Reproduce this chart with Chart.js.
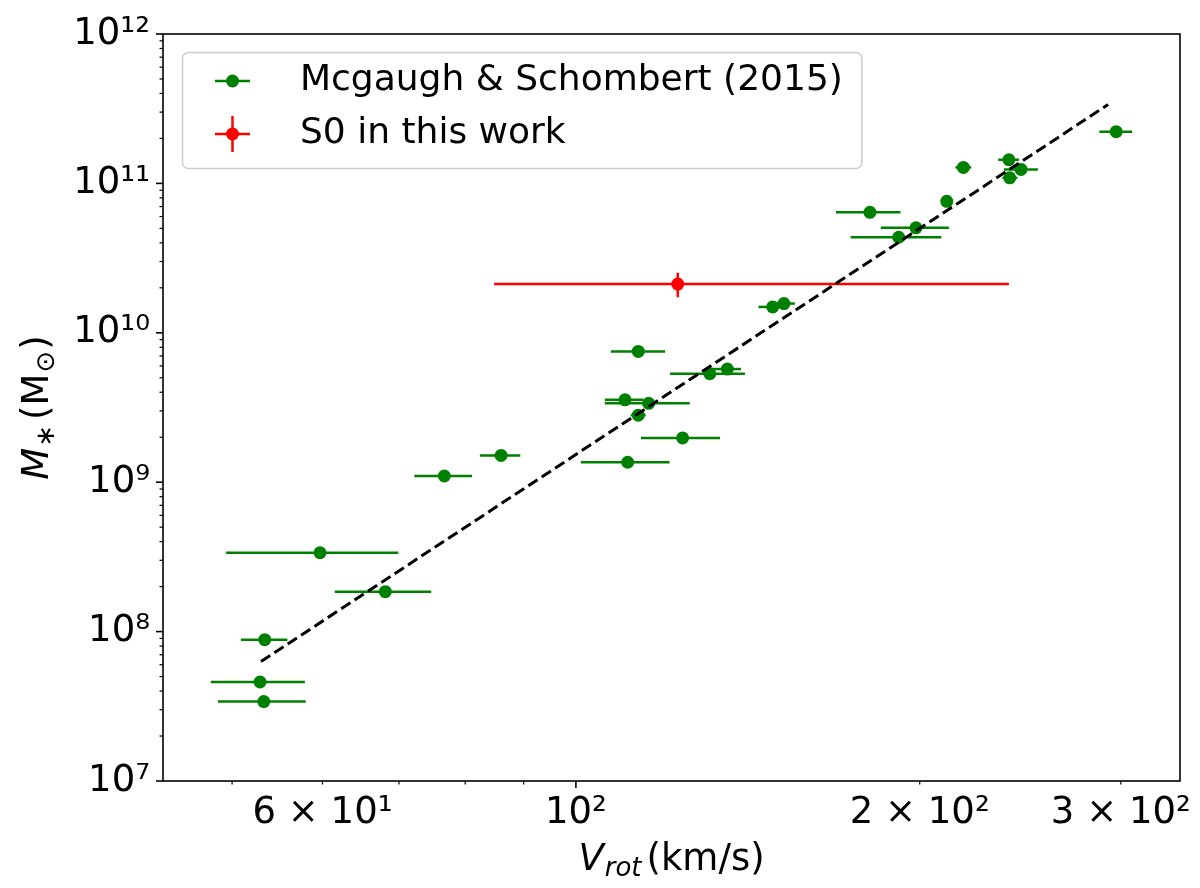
<!DOCTYPE html>
<html>
<head>
<meta charset="utf-8">
<script src="https://cdn.jsdelivr.net/npm/chart.js"></script>
<style>
  html, body { margin: 0; padding: 0; background: #fff; }
</style>
</head>
<body>
<canvas id="tf" width="1200" height="888"></canvas>
<script>
// Mcgaugh & Schombert (2015): rotation velocity (km/s), its range, stellar mass (Msun)
const vrot   = [86.0, 76.7, 59.7, 68.1, 53.4, 52.9, 53.3, 148.7, 152.1, 113.4, 131.0, 135.7, 110.4, 115.8, 113.4, 124.0, 111.0, 297.2, 218.4, 239.4, 245.3, 239.8, 211.2, 180.9, 198.5, 191.7];
const vrotLo = [82.4, 72.2, 49.4, 61.5, 50.9, 47.9, 48.6, 144.5, 148.7, 107.3, 120.9, 131.4, 106.0, 106.0, 111.7, 114.0, 101.0, 287.3, 214.9, 234.3, 237.0, 236.3, 209.9, 168.9, 184.9, 174.0];
const vrotHi = [89.4, 81.1, 69.9, 74.7, 55.9, 57.9, 58.0, 152.5, 155.5, 119.7, 140.6, 139.5, 114.6, 125.8, 115.1, 133.7, 120.8, 306.9, 221.9, 244.3, 253.8, 243.5, 212.9, 192.4, 212.1, 208.9];
const mstar  = [1.51e9, 1.10e9, 3.37e8, 1.85e8, 8.83e7, 4.60e7, 3.40e7, 1.49e10, 1.57e10, 7.50e9, 5.32e9, 5.72e9, 3.56e9, 3.37e9, 2.81e9, 1.98e9, 1.36e9, 2.22e11, 1.28e11, 1.44e11, 1.24e11, 1.09e11, 7.59e10, 6.40e10, 5.04e10, 4.36e10];

// S0 in this work
const s0Vrot    = [122.8];
const s0VrotLo  = [84.8];
const s0VrotHi  = [239.4];
const s0Mstar   = [2.12e10];
const s0MstarLo = [1.73e10];
const s0MstarHi = [2.52e10];

// dashed relation
const fitVrot  = [53.0, 292.4];
const fitMstar = [6.3e7, 3.37e11];

// axes
const xTicks  = [50, 60, 70, 80, 90, 100, 200, 300];
const xLabels = { 60: '6 × 10¹', 100: '10²', 200: '2 × 10²', 300: '3 × 10²' };
const yExps   = [7, 8, 9, 10, 11, 12];

const SUP = '⁰¹²³⁴⁵⁶⁷⁸⁹';
const sup = n => String(n).split('').map(d => SUP[+d]).join('');

const GREEN = '#008000';
const RED = '#ff0000';
const FONT = 'DejaVu Sans';

Chart.defaults.font.family = FONT;
Chart.defaults.color = '#000';

const errorBars = {
  id: 'errorBars',
  beforeDatasetsDraw(chart) {
    const { ctx, chartArea: a } = chart;
    const x = chart.scales.x, y = chart.scales.y;
    ctx.save();
    ctx.beginPath();
    ctx.rect(a.left, a.top, a.width, a.height);
    ctx.clip();
    ctx.lineWidth = 2.5;
    ctx.strokeStyle = GREEN;
    vrot.forEach((v, i) => {
      const py = y.getPixelForValue(mstar[i]);
      ctx.beginPath();
      ctx.moveTo(x.getPixelForValue(vrotLo[i]), py);
      ctx.lineTo(x.getPixelForValue(vrotHi[i]), py);
      ctx.stroke();
    });
    ctx.strokeStyle = RED;
    s0Vrot.forEach((v, i) => {
      const px = x.getPixelForValue(v), py = y.getPixelForValue(s0Mstar[i]);
      ctx.beginPath();
      ctx.moveTo(x.getPixelForValue(s0VrotLo[i]), py);
      ctx.lineTo(x.getPixelForValue(s0VrotHi[i]), py);
      ctx.moveTo(px, y.getPixelForValue(s0MstarLo[i]));
      ctx.lineTo(px, y.getPixelForValue(s0MstarHi[i]));
      ctx.stroke();
    });
    ctx.restore();
  }
};

const frameTicks = {
  id: 'frameTicks',
  afterDraw(chart) {
    const { ctx, chartArea: a } = chart;
    const x = chart.scales.x, y = chart.scales.y;
    ctx.save();
    ctx.strokeStyle = '#000';
    x.ticks.forEach(t => {
      const px = x.getPixelForValue(t.value);
      ctx.lineWidth = t.major ? 1.6 : 1.2;
      ctx.beginPath();
      ctx.moveTo(px, a.bottom);
      ctx.lineTo(px, a.bottom + (t.major ? 7 : 3.5));
      ctx.stroke();
    });
    y.ticks.forEach(t => {
      const py = y.getPixelForValue(t.value);
      ctx.lineWidth = t.major ? 1.6 : 1.2;
      ctx.beginPath();
      ctx.moveTo(a.left, py);
      ctx.lineTo(a.left - (t.major ? 7 : 3.5), py);
      ctx.stroke();
    });
    ctx.lineWidth = 1.6;
    ctx.strokeRect(a.left, a.top, a.width, a.height);
    ctx.restore();
  }
};

// draws a run of [text, font, baselineShift] pieces starting at x0
function drawRun(ctx, parts, x0, y0) {
  let cx = x0;
  parts.forEach(([txt, font, dy, gap]) => {
    ctx.font = font;
    ctx.fillText(txt, cx, y0 + dy);
    cx += ctx.measureText(txt).width + (gap || 0);
  });
}
function runWidth(ctx, parts) {
  return parts.reduce((w, [txt, font, dy, gap]) => {
    ctx.font = font;
    return w + ctx.measureText(txt).width + (gap || 0);
  }, 0);
}

const axisTitles = {
  id: 'axisTitles',
  afterDraw(chart) {
    const { ctx, chartArea: a } = chart;
    ctx.save();
    ctx.fillStyle = '#000';
    ctx.textBaseline = 'alphabetic';
    ctx.textAlign = 'left';
    const big = '37px ' + FONT, bigIt = 'italic 37px ' + FONT;
    const small = '26px ' + FONT, smallIt = 'italic 26px ' + FONT;

    const xParts = [['V', bigIt, 0, 1], ['rot', smallIt, 6, 5], ['(km/s)', big, 0]];
    const cx = (a.left + a.right) / 2;
    drawRun(ctx, xParts, cx - runWidth(ctx, xParts) / 2, 870);

    const yParts = [['M', bigIt, 0, 1], ['∗', small, 6, 5], ['(M', big, 0, 1], ['⊙', small, 6, 1], [')', big, 0]];
    const cy = (a.top + a.bottom) / 2;
    ctx.translate(48, cy);
    ctx.rotate(-Math.PI / 2);
    drawRun(ctx, yParts, -runWidth(ctx, yParts) / 2, 0);
    ctx.restore();
  }
};

const legendBox = {
  id: 'legendBox',
  afterDraw(chart) {
    const { ctx, chartArea: a } = chart;
    const entries = [
      { label: 'Mcgaugh & Schombert (2015)', color: GREEN, yerr: false, y: a.top + 47 },
      { label: 'S0 in this work', color: RED, yerr: true, y: a.top + 100 }
    ];
    ctx.save();
    ctx.font = '36px ' + FONT;
    const textX = a.left + 137;
    const w = Math.max(...entries.map(e => ctx.measureText(e.label).width));
    const bx = a.left + 19.5, by = a.top + 18.5;
    const bw = textX + w + 19 - bx, bh = 116;
    ctx.beginPath();
    ctx.roundRect(bx, by, bw, bh, 6);
    ctx.fillStyle = 'rgba(255,255,255,0.8)';
    ctx.fill();
    ctx.lineWidth = 1.5;
    ctx.strokeStyle = '#cccccc';
    ctx.stroke();
    entries.forEach(e => {
      const hx = a.left + 69.5;
      ctx.strokeStyle = e.color;
      ctx.fillStyle = e.color;
      ctx.lineWidth = 2.5;
      ctx.beginPath();
      ctx.moveTo(hx - 17.5, e.y);
      ctx.lineTo(hx + 17.5, e.y);
      if (e.yerr) {
        ctx.moveTo(hx, e.y - 18);
        ctx.lineTo(hx, e.y + 18);
      }
      ctx.stroke();
      ctx.beginPath();
      ctx.arc(hx, e.y, 6.5, 0, Math.PI * 2);
      ctx.fill();
      ctx.fillStyle = '#000';
      ctx.textBaseline = 'middle';
      ctx.fillText(e.label, textX, e.y);
    });
    ctx.restore();
  }
};

const yTickList = [];
yExps.forEach(e => {
  for (let k = 1; k <= 9; k++) {
    if (e === 12 && k > 1) break;
    yTickList.push({ value: k * Math.pow(10, e), major: k === 1 });
  }
});

const ctx = document.getElementById('tf').getContext('2d');
const chart = new Chart(ctx, {
  type: 'scatter',
  data: {
    datasets: [
      {
        type: 'line',
        label: 'fit',
        data: fitVrot.map((v, i) => ({ x: v, y: fitMstar[i] })),
        borderColor: '#000',
        borderWidth: 3,
        borderDash: [11, 5],
        pointRadius: 0,
        fill: false,
        order: 0
      },
      {
        label: 'Mcgaugh & Schombert (2015)',
        data: vrot.map((v, i) => ({ x: v, y: mstar[i] })),
        backgroundColor: GREEN,
        borderWidth: 0,
        pointRadius: 6.5,
        order: 2
      },
      {
        label: 'S0 in this work',
        data: s0Vrot.map((v, i) => ({ x: v, y: s0Mstar[i] })),
        backgroundColor: RED,
        borderWidth: 0,
        pointRadius: 6.5,
        order: 1
      }
    ]
  },
  options: {
    responsive: false,
    animation: false,
    devicePixelRatio: 1,
    layout: { padding: { left: 0, right: 20, top: 34, bottom: 0 } },
    plugins: {
      legend: { display: false },
      tooltip: { enabled: false }
    },
    scales: {
      x: {
        type: 'logarithmic',
        min: 43.5,
        max: 338,
        afterBuildTicks: s => { s.ticks = xTicks.map(v => ({ value: v, major: v === 100 })); },
        afterFit: s => { s.height = 107; },
        grid: { display: false, drawTicks: true, tickLength: 7 },
        border: { display: false },
        ticks: {
          autoSkip: false,
          maxRotation: 0,
          padding: 3,
          color: '#000',
          font: { family: FONT, size: 37 },
          callback: v => xLabels[v] || ''
        }
      },
      y: {
        type: 'logarithmic',
        min: 1e7,
        max: 1e12,
        afterBuildTicks: s => { s.ticks = yTickList.map(t => ({ ...t })); },
        afterFit: s => { s.width = 163; },
        grid: { display: false, drawTicks: true, tickLength: 7 },
        border: { display: false },
        ticks: {
          autoSkip: false,
          padding: 6,
          color: '#000',
          font: { family: FONT, size: 37 },
          callback: v => {
            const e = Math.round(Math.log10(v));
            return Math.abs(v - Math.pow(10, e)) < 1 ? '10' + sup(e) : '';
          }
        }
      }
    }
  },
  plugins: [errorBars, frameTicks, axisTitles, legendBox]
});
</script>
</body>
</html>
